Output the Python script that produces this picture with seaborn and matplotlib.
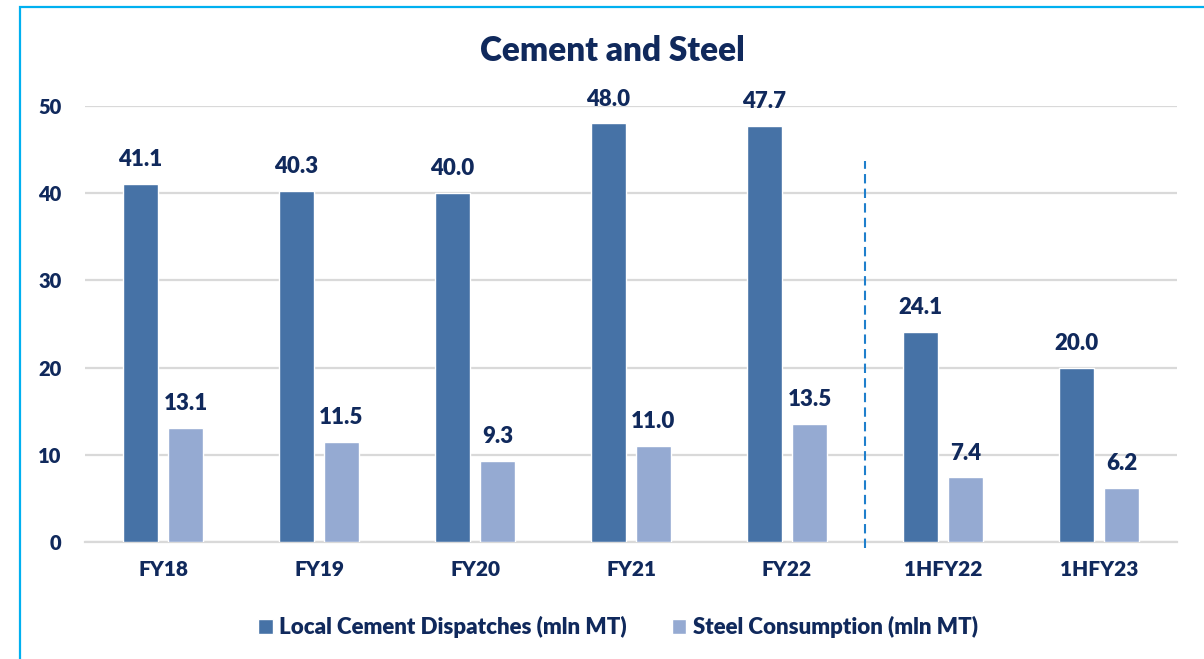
import matplotlib
matplotlib.use("Agg")
import matplotlib.pyplot as plt
import seaborn as sns
import pandas as pd
from matplotlib.patches import Rectangle

categories = ["FY18", "FY19", "FY20", "FY21", "FY22", "1HFY22", "1HFY23"]
cement = [41.1, 40.3, 40.0, 48.0, 47.7, 24.1, 20.0]
steel = [13.1, 11.5, 9.3, 11.0, 13.5, 7.4, 6.2]
series_names = ["Local Cement Dispatches (mln MT)", "Steel Consumption (mln MT)"]
yticks = [0, 10, 20, 30, 40, 50]

NAVY = "#10295C"
C1 = "#4672A6"
C2 = "#95AAD2"
GRID = "#D9D9D9"
W = "heavy"

sns.set_theme(style="white")
plt.rcParams["font.family"] = ["Lato", "DejaVu Sans"]
plt.rcParams["font.weight"] = W

df = pd.DataFrame({
    "cat": categories * 2,
    "val": cement + steel,
    "series": [series_names[0]] * len(categories) + [series_names[1]] * len(categories),
})

fig = plt.figure(figsize=(12.04, 6.59), dpi=100)
ax = fig.add_axes([85 / 1204, (659 - 542) / 659, (1177 - 85) / 1204, (542 - 106) / 659])

sns.barplot(data=df, x="cat", y="val", hue="series", order=categories,
            hue_order=series_names, palette=[C1, C2], width=0.577, gap=0.22,
            saturation=1, ax=ax, legend=True, zorder=3)

ax.set_ylim(0, 50)
ax.set_xlim(-0.5, len(categories) - 0.5)
ax.set_yticks(yticks)
ax.set_yticklabels([str(t) for t in yticks])
ax.yaxis.grid(True, color=GRID, linewidth=1.6, zorder=0)
ax.set_axisbelow(True)
for s in ["top", "right", "left"]:
    ax.spines[s].set_visible(False)
ax.spines["bottom"].set_color(GRID)
ax.spines["bottom"].set_linewidth(1.6)
ax.tick_params(axis="y", length=0, pad=17, labelsize=14.5, labelcolor=NAVY)
ax.tick_params(axis="x", length=0, pad=13, labelsize=15, labelcolor=NAVY)
for lab in ax.get_xticklabels() + ax.get_yticklabels():
    lab.set_fontweight(W)
ax.set_xlabel("")
ax.set_ylabel("")

for cont in ax.containers:
    ax.bar_label(cont, fmt="%.1f", padding=10, fontsize=16, color=NAVY,
                 fontweight=W, clip_on=False)

# dashed separator between annual and half-year data
ax.axvline(4.5, ymin=-0.014, ymax=(542 - 161) / 436, color="#1F7FCC",
           linestyle=(0, (4.5, 2.5)), linewidth=1.5, clip_on=False, zorder=4)

handles, labels = ax.get_legend_handles_labels()
ax.get_legend().remove()
fig.legend(handles, labels, loc="center", bbox_to_anchor=(618 / 1204, 1 - 627 / 659),
           ncol=2, frameon=False, labelcolor=NAVY,
           handlelength=0.65, handleheight=0.65, handletextpad=0.3, columnspacing=2.0,
           prop={"weight": W, "size": 16})

fig.text(612 / 1204, 1 - 51 / 659, "Cement and Steel", ha="center", va="center",
         fontsize=24, fontweight=W, color=NAVY)

fig.patches.append(Rectangle((20 / 1204, -0.1), 1.2, 1 - 7 / 659 + 0.1,
                             transform=fig.transFigure, fill=False,
                             edgecolor="#00B0F0", linewidth=1.6))

fig.savefig("out.png", dpi=100)
